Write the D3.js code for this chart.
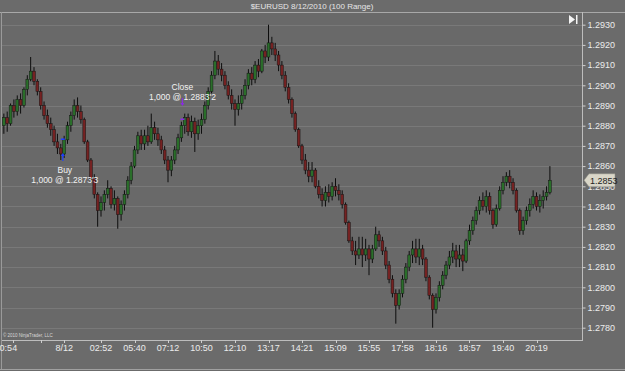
<!DOCTYPE html>
<html>
<head>
<meta charset="utf-8">
<script src="https://cdn.jsdelivr.net/npm/d3@7"></script>
<style>
  html, body { margin: 0; padding: 0; background: #6b6b6b; }
  svg { display: block; font-family: "Liberation Sans", Arial, sans-serif; }
</style>
</head>
<body>
<svg id="chart"></svg>
<script>
// $EURUSD 8/12/2010, 100 range bars
const opens = [
  1.2876,1.2880,1.2884,1.2881,1.2890,1.2887,1.2893,1.2890,1.2898,1.2903,1.2907,1.2902,1.2897,1.2890,1.2885,
  1.2881,1.2878,1.2872,1.2869,1.2866,1.2873,1.2880,1.2885,1.2890,1.2887,1.2883,1.2872,1.2863,1.2854,1.2846,
  1.2838,1.2842,1.2846,1.2849,1.2841,1.2844,1.2836,1.2841,1.2846,1.2853,1.2860,1.2868,1.2875,1.2871,1.2875,
  1.2872,1.2879,1.2876,1.2873,1.2868,1.2863,1.2858,1.2863,1.2868,1.2874,1.2880,1.2884,1.2877,1.2882,1.2876,
  1.2880,1.2883,1.2890,1.2897,1.2905,1.2912,1.2908,1.2905,1.2900,1.2895,1.2891,1.2888,1.2891,1.2895,1.2900,
  1.2906,1.2903,1.2910,1.2907,1.2917,1.2914,1.2921,1.2918,1.2915,1.2910,1.2905,1.2899,1.2893,1.2886,1.2878,
  1.2870,1.2863,1.2858,1.2855,1.2858,1.2850,1.2846,1.2843,1.2847,1.2845,1.2850,1.2848,1.2846,1.2841,1.2832,
  1.2823,1.2818,1.2816,1.2819,1.2816,1.2819,1.2814,1.2819,1.2826,1.2823,1.2818,1.2811,1.2804,1.2797,1.2791,
  1.2797,1.2804,1.2810,1.2816,1.2819,1.2815,1.2819,1.2814,1.2805,1.2796,1.2789,1.2795,1.2801,1.2806,1.2811,
  1.2815,1.2818,1.2814,1.2816,1.2813,1.2823,1.2828,1.2833,1.2838,1.2843,1.2840,1.2845,1.2838,1.2831,1.2839,
  1.2848,1.2852,1.2855,1.2852,1.2848,1.2838,1.2828,1.2833,1.2838,1.2841,1.2845,1.2840,1.2843,1.2845,1.2847
];
const highs = [
  1.2883,1.2886,1.2887,1.2891,1.2893,1.2895,1.2896,1.2899,1.2905,1.2914,1.2909,1.2903,1.2899,1.2892,1.2888,
  1.2884,1.2880,1.2876,1.2871,1.2875,1.2882,1.2887,1.2893,1.2894,1.2890,1.2884,1.2873,1.2864,1.2856,1.2847,
  1.2845,1.2848,1.2853,1.2850,1.2848,1.2845,1.2843,1.2848,1.2855,1.2862,1.2870,1.2877,1.2878,1.2878,1.2880,
  1.2886,1.2882,1.2879,1.2875,1.2870,1.2865,1.2865,1.2870,1.2876,1.2882,1.2886,1.2886,1.2885,1.2884,1.2883,
  1.2886,1.2892,1.2899,1.2907,1.2917,1.2915,1.2911,1.2907,1.2902,1.2898,1.2893,1.2895,1.2898,1.2903,1.2908,
  1.2909,1.2912,1.2913,1.2918,1.2920,1.2930,1.2924,1.2921,1.2917,1.2912,1.2907,1.2901,1.2894,1.2887,1.2879,
  1.2871,1.2866,1.2862,1.2862,1.2859,1.2853,1.2849,1.2850,1.2851,1.2852,1.2854,1.2851,1.2848,1.2842,1.2833,
  1.2825,1.2823,1.2825,1.2825,1.2824,1.2821,1.2821,1.2830,1.2828,1.2825,1.2820,1.2813,1.2806,1.2799,1.2799,
  1.2806,1.2812,1.2818,1.2823,1.2824,1.2824,1.2821,1.2815,1.2806,1.2797,1.2797,1.2803,1.2808,1.2813,1.2818,
  1.2822,1.2821,1.2821,1.2819,1.2824,1.2831,1.2835,1.2840,1.2845,1.2847,1.2848,1.2847,1.2839,1.2841,1.2850,
  1.2855,1.2857,1.2858,1.2854,1.2849,1.2839,1.2835,1.2840,1.2844,1.2848,1.2847,1.2846,1.2848,1.2850,1.2860
];
const lows = [
  1.2873,1.2876,1.2877,1.2880,1.2884,1.2885,1.2886,1.2889,1.2895,1.2902,1.2900,1.2895,1.2888,1.2883,1.2879,
  1.2875,1.2870,1.2866,1.2863,1.2864,1.2871,1.2877,1.2883,1.2884,1.2881,1.2871,1.2862,1.2853,1.2844,1.2830,
  1.2835,1.2838,1.2844,1.2839,1.2838,1.2829,1.2833,1.2838,1.2844,1.2851,1.2859,1.2866,1.2868,1.2868,1.2870,
  1.2871,1.2873,1.2870,1.2866,1.2861,1.2852,1.2855,1.2861,1.2866,1.2872,1.2876,1.2875,1.2874,1.2867,1.2873,
  1.2876,1.2881,1.2888,1.2896,1.2903,1.2905,1.2902,1.2898,1.2893,1.2888,1.2880,1.2885,1.2888,1.2893,1.2898,
  1.2900,1.2901,1.2904,1.2906,1.2911,1.2912,1.2915,1.2912,1.2907,1.2903,1.2897,1.2891,1.2884,1.2877,1.2869,
  1.2861,1.2856,1.2852,1.2852,1.2849,1.2844,1.2840,1.2840,1.2842,1.2843,1.2845,1.2843,1.2839,1.2831,1.2822,
  1.2816,1.2811,1.2814,1.2810,1.2813,1.2806,1.2812,1.2818,1.2820,1.2816,1.2809,1.2802,1.2795,1.2782,1.2789,
  1.2795,1.2802,1.2808,1.2812,1.2812,1.2811,1.2811,1.2803,1.2794,1.2780,1.2787,1.2793,1.2799,1.2804,1.2809,
  1.2812,1.2810,1.2810,1.2808,1.2812,1.2821,1.2826,1.2831,1.2836,1.2838,1.2837,1.2836,1.2829,1.2830,1.2838,
  1.2846,1.2850,1.2849,1.2846,1.2837,1.2826,1.2826,1.2831,1.2835,1.2839,1.2838,1.2837,1.2839,1.2843,1.2846
];
const closes = [
  1.2880,1.2884,1.2881,1.2890,1.2887,1.2893,1.2890,1.2898,1.2903,1.2907,1.2902,1.2897,1.2890,1.2885,1.2881,
  1.2878,1.2872,1.2869,1.2866,1.2873,1.2880,1.2885,1.2890,1.2887,1.2883,1.2872,1.2863,1.2854,1.2846,1.2838,
  1.2842,1.2846,1.2849,1.2841,1.2844,1.2836,1.2841,1.2846,1.2853,1.2860,1.2868,1.2875,1.2871,1.2875,1.2872,
  1.2879,1.2876,1.2873,1.2868,1.2863,1.2858,1.2863,1.2868,1.2874,1.2880,1.2884,1.2877,1.2882,1.2876,1.2880,
  1.2883,1.2890,1.2897,1.2905,1.2912,1.2908,1.2905,1.2900,1.2895,1.2891,1.2888,1.2891,1.2895,1.2900,1.2906,
  1.2903,1.2910,1.2907,1.2917,1.2914,1.2921,1.2918,1.2915,1.2910,1.2905,1.2899,1.2893,1.2886,1.2878,1.2870,
  1.2863,1.2858,1.2855,1.2858,1.2850,1.2846,1.2843,1.2847,1.2845,1.2850,1.2848,1.2846,1.2841,1.2832,1.2823,
  1.2818,1.2816,1.2819,1.2816,1.2819,1.2814,1.2819,1.2826,1.2823,1.2818,1.2811,1.2804,1.2797,1.2791,1.2797,
  1.2804,1.2810,1.2816,1.2819,1.2815,1.2819,1.2814,1.2805,1.2796,1.2789,1.2795,1.2801,1.2806,1.2811,1.2815,
  1.2818,1.2814,1.2816,1.2813,1.2823,1.2828,1.2833,1.2838,1.2843,1.2840,1.2845,1.2838,1.2831,1.2839,1.2848,
  1.2852,1.2855,1.2852,1.2848,1.2838,1.2828,1.2833,1.2838,1.2841,1.2845,1.2840,1.2843,1.2845,1.2847,1.2853
];

// price axis ticks
const priceTicks = [1.2780, 1.2790, 1.2800, 1.2810, 1.2820, 1.2830, 1.2840, 1.2850,
                    1.2860, 1.2870, 1.2880, 1.2890, 1.2900, 1.2910, 1.2920, 1.2930];

// time axis labels (bar index where each label sits)
const timeLabels = ['20:54', '8/12', '02:52', '05:40', '07:12', '10:50', '12:10', '13:17',
                    '14:21', '15:09', '15:55', '17:58', '18:16', '18:57', '19:40', '20:19'];
const timeLabelIdx = [1.6, 19, 30, 40, 50, 60, 70, 80, 90, 100, 110, 120, 130, 140, 150, 160];
const extraTickIdx = [3.8, 12];

// executions
const tradeNames = ['Buy', 'Close'];
const tradeQty = ['1,000', '1,000'];
const tradePriceText = ["1.2873'3", "1.2883'2"];
const tradePrices = [1.28733, 1.28832];
const tradeIdx = [18.6, 54.3];

const lastPrice = 1.2853;

const width = 625, height = 371;
const plot = { left: 2, right: 582, top: 12, bottom: 340 };

const svg = d3.select('#chart')
  .attr('width', width)
  .attr('height', height)
  .attr('viewBox', `0 0 ${width} ${height}`);

// background
svg.append('rect').attr('width', width).attr('height', height).attr('fill', '#6b6b6b');
svg.append('rect')
  .attr('x', plot.left).attr('y', plot.top)
  .attr('width', plot.right - plot.left).attr('height', plot.bottom - plot.top)
  .attr('fill', '#696969');

// title
svg.append('text')
  .attr('x', 312).attr('y', 9)
  .attr('text-anchor', 'middle')
  .attr('font-size', '8px')
  .attr('fill', '#e6e6e6')
  .text('$EURUSD  8/12/2010 (100 Range)');

const x = d3.scaleLinear().domain([0, closes.length - 1]).range([0.5, 0.5 + 3.35 * (closes.length - 1)]);
const y = d3.scaleLinear().domain([1.2780, 1.2930]).range([327.7, 24.7]);

// gridlines
svg.append('g')
  .selectAll('line')
  .data(priceTicks)
  .join('line')
  .attr('x1', plot.left).attr('x2', plot.right)
  .attr('y1', d => Math.round(y(d)) + 0.5)
  .attr('y2', d => Math.round(y(d)) + 0.5)
  .attr('stroke', '#797979')
  .attr('stroke-width', 1);

// candles
svg.append('clipPath').attr('id', 'plotclip')
  .append('rect')
  .attr('x', plot.left).attr('y', plot.top)
  .attr('width', plot.right - plot.left).attr('height', plot.bottom - plot.top);

const bars = closes.map((c, i) => ({ i, o: opens[i], h: highs[i], l: lows[i], c }));
const cg = svg.append('g').attr('clip-path', 'url(#plotclip)');

cg.selectAll('line.wick')
  .data(bars)
  .join('line')
  .attr('class', 'wick')
  .attr('x1', d => x(d.i)).attr('x2', d => x(d.i))
  .attr('y1', d => y(d.h)).attr('y2', d => y(d.l))
  .attr('stroke', '#0d0d0d')
  .attr('stroke-width', 1);

cg.selectAll('rect.body')
  .data(bars)
  .join('rect')
  .attr('class', 'body')
  .attr('x', d => x(d.i) - 1.4)
  .attr('width', 2.8)
  .attr('y', d => y(Math.max(d.o, d.c)))
  .attr('height', d => Math.max(1, Math.abs(y(d.o) - y(d.c))))
  .attr('fill', d => d.c >= d.o ? '#2a6e2a' : '#752222')
  .attr('stroke', '#151515')
  .attr('stroke-width', 0.5);

// executions
tradeNames.forEach((name, k) => {
  const tx = x(tradeIdx[k]);
  const ty = y(tradePrices[k]);
  const isBuy = name === 'Buy';
  const col = isBuy ? '#1f3fff' : '#8a2be2';
  // fill dash on the bar
  cg.append('line')
    .attr('x1', tx - 2).attr('x2', tx + 2)
    .attr('y1', ty).attr('y2', ty)
    .attr('stroke', col).attr('stroke-width', 1.5);
  // arrow
  const ay = isBuy ? 157 : 102;
  const dir = isBuy ? -1 : 1;
  svg.append('line')
    .attr('x1', tx).attr('x2', tx)
    .attr('y1', ay - dir * 4).attr('y2', ay + dir * 2)
    .attr('stroke', col).attr('stroke-width', 1.2);
  svg.append('path')
    .attr('d', `M${tx - 2},${ay + dir * 1} L${tx + 2},${ay + dir * 1} L${tx},${ay + dir * 4} Z`)
    .attr('fill', col);
  const t1y = isBuy ? 173 : 90;
  svg.append('text')
    .attr('x', tx + (isBuy ? 2 : 0)).attr('y', t1y)
    .attr('text-anchor', 'middle')
    .attr('font-size', '8.5px')
    .attr('fill', '#f2f2f2')
    .text(name);
  svg.append('text')
    .attr('x', tx + (isBuy ? 2 : 0)).attr('y', t1y + 9.5)
    .attr('text-anchor', 'middle')
    .attr('font-size', '8.5px')
    .attr('fill', '#f2f2f2')
    .text(`${tradeQty[k]} @ ${tradePriceText[k]}`);
});

// frame lines
svg.append('line').attr('x1', 0).attr('x2', width).attr('y1', 12.5).attr('y2', 12.5)
  .attr('stroke', '#a8a8a8').attr('stroke-width', 1);
svg.append('line').attr('x1', 1.5).attr('x2', 1.5).attr('y1', 12).attr('y2', 369)
  .attr('stroke', '#9a9a9a').attr('stroke-width', 1);
svg.append('line').attr('x1', 0).attr('x2', width).attr('y1', 369.5).attr('y2', 369.5)
  .attr('stroke', '#a0a0a0').attr('stroke-width', 1);
svg.append('line').attr('x1', plot.right + 0.5).attr('x2', plot.right + 0.5)
  .attr('y1', plot.top).attr('y2', plot.bottom)
  .attr('stroke', '#bdbdbd').attr('stroke-width', 1);
svg.append('line').attr('x1', plot.left).attr('x2', plot.right + 1)
  .attr('y1', plot.bottom + 0.5).attr('y2', plot.bottom + 0.5)
  .attr('stroke', '#bdbdbd').attr('stroke-width', 1);

// price axis
const yAxis = d3.axisRight(y)
  .tickValues(priceTicks)
  .tickFormat(d3.format('.4f'))
  .tickSize(3)
  .tickPadding(2);
const ya = svg.append('g')
  .attr('transform', `translate(${plot.right + 0.5},0)`)
  .call(yAxis);
ya.select('.domain').remove();
ya.selectAll('line').attr('stroke', '#d0d0d0');
ya.selectAll('text')
  .attr('fill', '#ececec')
  .attr('font-size', '9px')
  .attr('font-family', '"Liberation Sans", Arial, sans-serif');

// time axis
const xa = svg.append('g');
xa.selectAll('line')
  .data(timeLabelIdx.slice(1).concat(extraTickIdx))
  .join('line')
  .attr('x1', d => Math.round(x(d)) + 0.5).attr('x2', d => Math.round(x(d)) + 0.5)
  .attr('y1', plot.bottom).attr('y2', plot.bottom + 3)
  .attr('stroke', '#d0d0d0');
xa.selectAll('text')
  .data(timeLabels)
  .join('text')
  .attr('x', (d, i) => x(timeLabelIdx[i]))
  .attr('y', 351)
  .attr('text-anchor', 'middle')
  .attr('font-size', '9px')
  .attr('fill', '#ececec')
  .text(d => d);

// copyright
svg.append('text')
  .attr('x', 3).attr('y', 337)
  .attr('font-size', '4.5px')
  .attr('fill', '#d8d8d8')
  .text('\u00a9 2010 NinjaTrader, LLC');

// last price marker
const ly = y(lastPrice);
svg.append('path')
  .attr('d', `M${plot.right + 2},${ly} L${plot.right + 7},${ly - 6.5} L${plot.right + 33},${ly - 6.5} L${plot.right + 33},${ly + 6.5} L${plot.right + 7},${ly + 6.5} Z`)
  .attr('fill', '#d9d6c8')
  .attr('stroke', '#8a8a80')
  .attr('stroke-width', 0.5);
svg.append('text')
  .attr('x', plot.right + 8).attr('y', ly + 3.5)
  .attr('font-size', '9px')
  .attr('fill', '#222')
  .text(d3.format('.4f')(lastPrice));

// scroll-to-end button
svg.append('path')
  .attr('d', 'M569,15 L575,19.5 L569,24 Z')
  .attr('fill', '#f4f4f4');
svg.append('rect')
  .attr('x', 576).attr('y', 15).attr('width', 1.5).attr('height', 9)
  .attr('fill', '#f4f4f4');
</script>
</body>
</html>
